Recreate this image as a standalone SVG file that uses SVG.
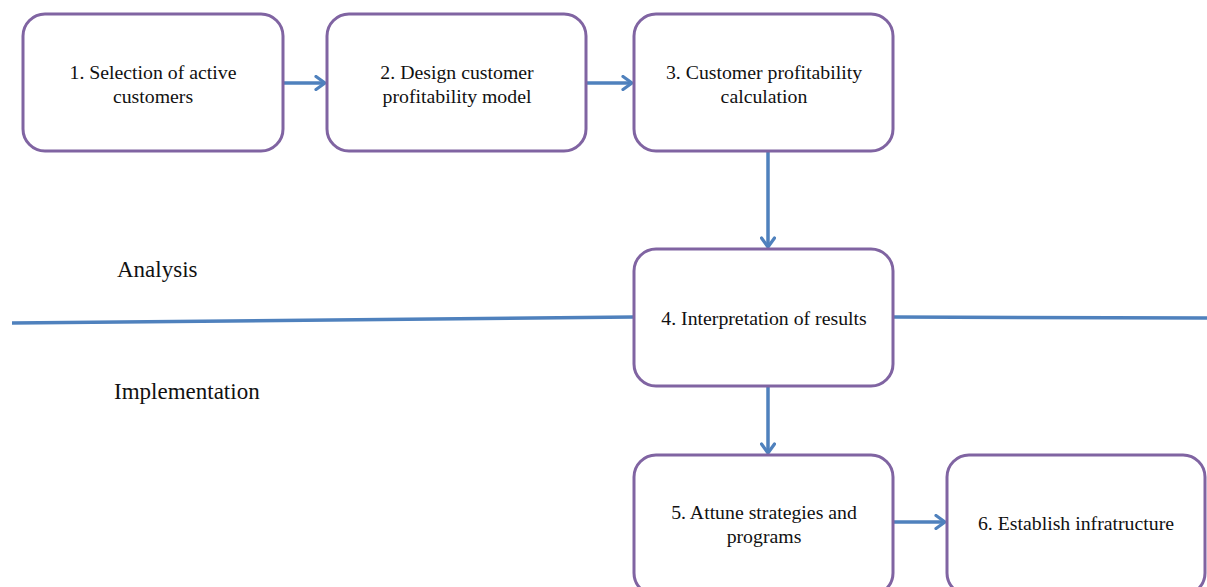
<svg xmlns="http://www.w3.org/2000/svg" width="1207" height="587" viewBox="0 0 1207 587">
<style>
.box{fill:#fff;stroke:#8064A2;stroke-width:3}
.t{font-family:"Liberation Serif","Times New Roman",serif;font-size:19.8px;fill:#111;text-anchor:middle}
.lbl{font-family:"Liberation Serif","Times New Roman",serif;font-size:23px;fill:#111}
.c{stroke:#4F81BD;stroke-width:3.5;fill:none}
</style>
<defs>
<marker id="ah" viewBox="0 0 14 16" refX="12" refY="8" markerWidth="14" markerHeight="16" markerUnits="userSpaceOnUse" orient="auto">
<path d="M3,1.5 L12,8 L3,14.5" fill="none" stroke="#4F81BD" stroke-width="3.2" stroke-linecap="round" stroke-linejoin="round"/>
</marker>
</defs>
<rect width="1207" height="587" fill="#fff"/>
<g id="connectors">
<line class="c" x1="12" y1="323" x2="634" y2="317"/>
<line class="c" x1="893" y1="317" x2="1207" y2="318"/>
<line class="c" x1="283" y1="83" x2="325" y2="83" marker-end="url(#ah)"/>
<line class="c" x1="586" y1="83" x2="632" y2="83" marker-end="url(#ah)"/>
<line class="c" x1="768" y1="151" x2="768" y2="247" marker-end="url(#ah)"/>
<line class="c" x1="768" y1="386" x2="768" y2="453" marker-end="url(#ah)"/>
<line class="c" x1="893" y1="522" x2="945" y2="522" marker-end="url(#ah)"/>
</g>
<g id="n1"><rect class="box" x="23" y="14" width="260" height="137" rx="22"/>
<text class="t" x="153" y="79">1. Selection of active</text><text class="t" x="153" y="103">customers</text></g>
<g id="n2"><rect class="box" x="327" y="14" width="259" height="137" rx="22"/>
<text class="t" x="457" y="79">2. Design customer</text><text class="t" x="457" y="103">profitability model</text></g>
<g id="n3"><rect class="box" x="634" y="14" width="259" height="137" rx="22"/>
<text class="t" x="764" y="79">3. Customer profitability</text><text class="t" x="764" y="103">calculation</text></g>
<g id="n4"><rect class="box" x="634" y="249" width="259" height="137" rx="22"/>
<text class="t" x="764" y="325">4. Interpretation of results</text></g>
<g id="n5"><rect class="box" x="634" y="455" width="259" height="140" rx="22"/>
<text class="t" x="764" y="519">5. Attune strategies and</text><text class="t" x="764" y="543">programs</text></g>
<g id="n6"><rect class="box" x="947" y="455" width="258" height="140" rx="22"/>
<text class="t" x="1076" y="530">6. Establish infratructure</text></g>
<text class="lbl" x="117" y="277">Analysis</text>
<text class="lbl" x="114" y="399">Implementation</text>
</svg>
